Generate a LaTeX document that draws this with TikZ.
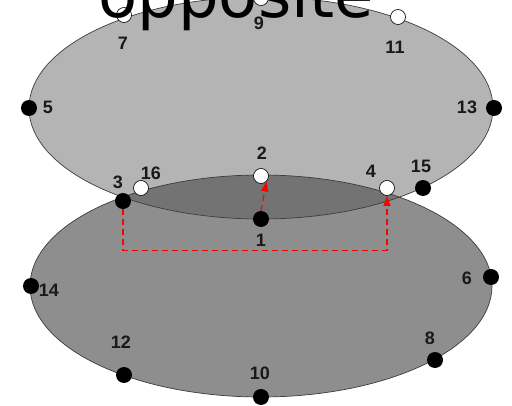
\documentclass[tikz,border=0pt]{standalone}
\usepackage{fontspec}
\setmainfont{Liberation Sans}
\newfontfamily\bigfont{DejaVu Sans}
\usepackage{xcolor}
\usepackage{tikz}
\usetikzlibrary{arrows.meta}

\definecolor{topgray}{RGB}{180,180,180}
\definecolor{botgray}{RGB}{142,142,142}
\definecolor{lensgray}{RGB}{115,115,115}
\definecolor{rimgray}{RGB}{60,60,60}

\tikzset{
  blackpt/.style={circle, fill=black, minimum size=16pt, inner sep=0pt},
  whitept/.style={circle, draw=black, line width=0.6pt, fill=white, minimum size=15pt, inner sep=0pt},
  num/.style={font=\fontsize{18}{18}\selectfont\bfseries, text=black!90, inner sep=0pt},
  redpath/.style={color=red, dash pattern=on 6pt off 4pt, line width=1.2pt,
                  -{Triangle[length=10pt,width=7pt]}}
}

\begin{document}
\begin{tikzpicture}[x=1pt, y=-1pt]
  \clip (0,0) rectangle (512,406);
  \fill[white] (0,0) rectangle (512,406);

  % the two discs and their overlap
  \fill[botgray] (261,286) ellipse [x radius=231pt, y radius=111pt];
  \fill[topgray] (261,108) ellipse [x radius=232pt, y radius=111pt];
  \begin{scope}
    \clip (261,108) ellipse [x radius=232pt, y radius=111pt];
    \fill[lensgray] (261,286) ellipse [x radius=231pt, y radius=111pt];
  \end{scope}
  \draw[rimgray, line width=0.7pt] (261,286) ellipse [x radius=231pt, y radius=111pt];
  \draw[rimgray, line width=0.7pt] (261,108) ellipse [x radius=232pt, y radius=111pt];

  % points
  \node[blackpt] (p1)  at (261,219) {};
  \node[whitept] (p2)  at (261,176) {};
  \node[blackpt] (p3)  at (123,201) {};
  \node[whitept] (p4)  at (387,188) {};
  \node[blackpt] (p5)  at (29,108) {};
  \node[blackpt] (p6)  at (491,277) {};
  \node[whitept] (p7)  at (124,15) {};
  \node[blackpt] (p8)  at (435,360) {};
  \node[whitept] (p9)  at (261,-2) {};
  \node[blackpt] (p10) at (261,397) {};
  \node[whitept] (p11) at (398,17) {};
  \node[blackpt] (p12) at (124,375) {};
  \node[blackpt] (p13) at (494,108) {};
  \node[blackpt] (p14) at (31,286) {};
  \node[blackpt] (p15) at (423,188) {};
  \node[whitept] (p16) at (141,188) {};

  % moves
  \draw[redpath] (p1.north) -- (p2.south east);
  \draw[redpath] (p3.south) -- ++(0,41) -| (p4.south);

  % numbers
  \node[num] (l1)  at (261,240) {1};
  \node[num] (l2)  at (262,153) {2};
  \node[num] (l3)  at (118,182) {3};
  \node[num] (l4)  at (371,171) {4};
  \node[num] (l5)  at (48,107) {5};
  \node[num] (l6)  at (467,278) {6};
  \node[num] (l7)  at (123,43) {7};
  \node[num] (l8)  at (430,338) {8};
  \node[num] (l9)  at (259,23) {9};
  \node[num] (l10) at (260,373) {10};
  \node[num] (l11) at (395,47) {11};
  \node[num] (l12) at (121,342) {12};
  \node[num] (l13) at (467,107) {13};
  \node[num] (l14) at (49,290) {14};
  \node[num] (l15) at (421,166) {15};
  \node[num] (l16) at (151,173) {16};

  \node[font=\bigfont\fontsize{64}{64}\selectfont, inner sep=0pt, anchor=base] (title) at (236,18) {opposite};
\end{tikzpicture}
\end{document}
